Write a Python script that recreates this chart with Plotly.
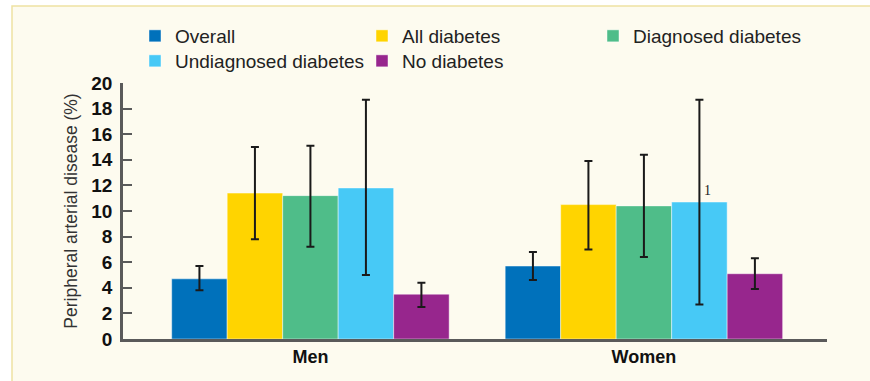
import plotly.graph_objects as go

categories = ["Men", "Women"]
series_names = ["Overall", "All diabetes", "Diagnosed diabetes", "Undiagnosed diabetes", "No diabetes"]
colors = ["#0071BB", "#FFD400", "#4FBD89", "#47C9F6", "#97268D"]

overall = [4.7, 5.7]
overall_lo = [3.8, 4.6]
overall_hi = [5.7, 6.8]

all_diab = [11.4, 10.5]
all_diab_lo = [7.8, 7.0]
all_diab_hi = [15.0, 13.9]

diag = [11.2, 10.4]
diag_lo = [7.2, 6.4]
diag_hi = [15.1, 14.4]

undiag = [11.8, 10.7]
undiag_lo = [5.0, 2.7]
undiag_hi = [18.7, 18.7]

no_diab = [3.5, 5.1]
no_diab_lo = [2.5, 3.9]
no_diab_hi = [4.4, 6.3]

y_ticks = [0, 2, 4, 6, 8, 10, 12, 14, 16, 18, 20]

series = [
    (overall, overall_lo, overall_hi),
    (all_diab, all_diab_lo, all_diab_hi),
    (diag, diag_lo, diag_hi),
    (undiag, undiag_lo, undiag_hi),
    (no_diab, no_diab_lo, no_diab_hi),
]

FONT = "Liberation Sans, Arial, sans-serif"
W, H = 870, 381
L, R, T, B = 123, 43, 83, 42
pw = W - L - R
ph = H - T - B

# legend item placement (pixel left of item, pixel top)
legend_ids = ["legend", "legend2", "legend3", "legend4", "legend5"]
legend_pos = [(135, 17), (362, 17), (593, 17), (135, 42), (362, 42)]

fig = go.Figure()
for name, color, (vals, lo, hi), lid in zip(series_names, colors, series, legend_ids):
    fig.add_trace(go.Bar(
        name=name,
        x=categories,
        y=vals,
        legend=lid,
        marker=dict(color=color, line=dict(color="rgba(255,255,255,0.45)", width=1)),
        error_y=dict(
            type="data",
            symmetric=False,
            array=[h - v for h, v in zip(hi, vals)],
            arrayminus=[v - l for v, l in zip(vals, lo)],
            color="#1a1a1a",
            thickness=2,
            width=4,
        ),
    ))


def px_x(px):
    return (px - L) / pw


def px_y(py):
    return (H - B - py) / ph


fig.add_shape(
    type="rect", xref="paper", yref="paper",
    x0=px_x(12), x1=px_x(900), y0=px_y(400), y1=px_y(6),
    fillcolor="#FDFBEF", line=dict(color="#EEE2A2", width=1.5), layer="below",
)

fig.add_annotation(
    x=1, y=11.6, xref="x", yref="y", text="1", showarrow=False,
    xshift=64, font=dict(family="Liberation Serif, serif", size=14, color="#222"),
)

legend_layouts = {}
for lid, (lx, ly) in zip(legend_ids, legend_pos):
    legend_layouts[lid] = dict(
        orientation="h",
        xref="container", yref="container",
        x=lx / W, xanchor="left",
        y=1 - ly / H, yanchor="top",
        font=dict(family=FONT, size=19, color="#222"),
        bgcolor="rgba(0,0,0,0)",
    )

fig.update_layout(
    width=W, height=H,
    margin=dict(l=L, r=R, t=T, b=B, autoexpand=False),
    paper_bgcolor="white",
    plot_bgcolor="rgba(0,0,0,0)",
    barmode="group",
    bargap=0.168,
    bargroupgap=0,
    font=dict(family=FONT, color="#222"),
    showlegend=True,
    xaxis=dict(
        type="category",
        range=[-0.562, 1.549],
        showline=True, linecolor="#5a5a5a", linewidth=2.5,
        ticks="", showgrid=False, zeroline=False,
        tickfont=dict(family=FONT, size=18, color="#111", weight="bold"),
        ticklabelstandoff=0,
    ),
    yaxis=dict(
        range=[0, 20],
        tickvals=y_ticks,
        showline=True, linecolor="#5a5a5a", linewidth=2.5,
        ticks="inside", ticklen=9, tickwidth=2, tickcolor="#5a5a5a",
        showgrid=False, zeroline=False,
        tickfont=dict(family=FONT, size=19, color="#111", weight="bold"),
        ticklabelstandoff=4,
        title=dict(text="Peripheral arterial disease (%)",
                   font=dict(family=FONT, size=17.5, color="#333"), standoff=10),
    ),
    **legend_layouts,
)

fig.write_html("out.html")
